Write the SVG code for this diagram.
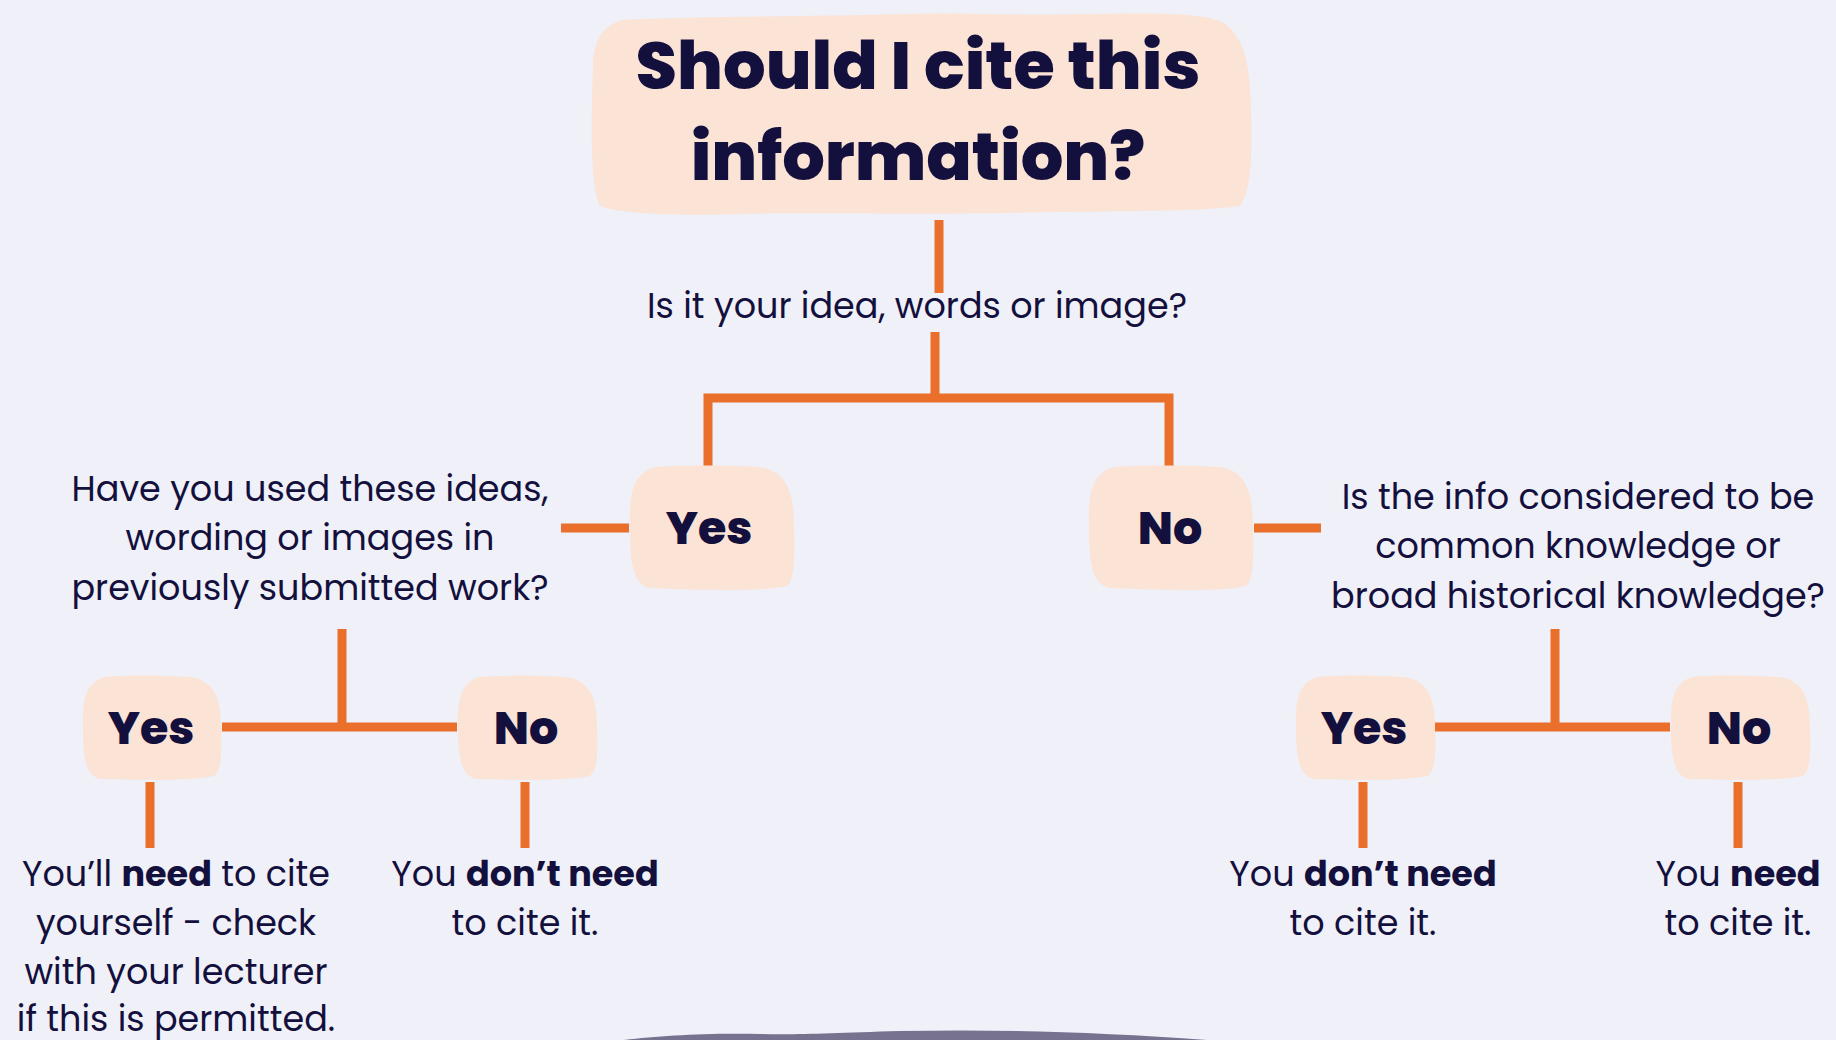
<svg xmlns="http://www.w3.org/2000/svg" width="1836" height="1040" viewBox="0 0 1836 1040">
<defs>
<style>
.bg{fill:#EFF0F8}
.box{fill:#FBE3D6}
.con{stroke:#E96F2A;stroke-width:9;fill:none;stroke-linecap:butt}
.t{font-family:Poppins,Inter,"Open Sans",sans-serif;fill:#14103D;text-anchor:middle}
.q{font-size:35px;font-weight:400}
.lbl{font-size:46px;font-weight:800}
.title{font-size:67px;font-weight:800}
.b{font-weight:700}
</style>
</defs>
<rect class="bg" x="0" y="0" width="1836" height="1040"/>

<g id="connectors">
<line class="con" x1="939" y1="220" x2="939" y2="293"/>
<line class="con" x1="935" y1="332" x2="935" y2="398"/>
<polyline class="con" points="708,466 708,398 1169,398 1169,466"/>
<line class="con" x1="561" y1="528" x2="629" y2="528"/>
<line class="con" x1="1254" y1="528" x2="1321" y2="528"/>
<line class="con" x1="342" y1="629" x2="342" y2="727"/>
<line class="con" x1="222" y1="727" x2="457" y2="727"/>
<line class="con" x1="150" y1="782" x2="150" y2="848"/>
<line class="con" x1="525" y1="782" x2="525" y2="848"/>
<line class="con" x1="1555" y1="629" x2="1555" y2="727"/>
<line class="con" x1="1435" y1="727" x2="1670" y2="727"/>
<line class="con" x1="1363" y1="782" x2="1363" y2="848"/>
<line class="con" x1="1738" y1="782" x2="1738" y2="848"/>
</g>

<g id="title">
<path class="box" d="M622,20 C700,16 800,17 900,14 C960,12 1020,16 1080,14 C1150,13 1200,12 1222,22 C1246,36 1250,70 1251,110 C1252,150 1252,190 1240,206 C1200,212 1100,211 1000,213 C900,215 820,212 740,214 C680,216 620,214 600,206 C590,185 591,120 593,65 C594,38 604,26 622,20 Z"/>
<text class="t title" x="918" y="89">Should I cite this</text>
<text class="t title" x="918" y="180">information?</text>
</g>

<g id="q1">
<text class="t q" x="917" y="318">Is it your idea, words or image?</text>
</g>

<g id="yes1">
<path class="box" d="M655,467 C690,465 740,465 765,468 C788,474 794,495 794,528 C795,560 794,580 787,586 C760,592 700,590 650,588 C636,585 630,572 630,528 C629,495 632,474 655,467 Z"/>
<text class="t lbl" x="709" y="544">Yes</text>
</g>

<g id="no1">
<path class="box" d="M1114,467 C1150,465 1200,465 1225,468 C1247,474 1253,495 1253,528 C1254,560 1253,580 1246,586 C1220,592 1160,590 1110,588 C1095,585 1089,572 1089,528 C1088,495 1091,474 1114,467 Z"/>
<text class="t lbl" x="1170" y="544">No</text>
</g>

<g id="q2">
<text class="t q" x="310" y="501">Have you used these ideas,</text>
<text class="t q" x="310" y="550">wording or images in</text>
<text class="t q" x="310" y="600">previously submitted work?</text>
</g>

<g id="q3">
<text class="t q" x="1578" y="509">Is the info considered to be</text>
<text class="t q" x="1578" y="558">common knowledge or</text>
<text class="t q" x="1578" y="608">broad historical knowledge?</text>
</g>

<g id="yes2l">
<path class="box" d="M104,677 C130,675 170,675 196,678 C215,684 221,700 221,728 C222,755 221,770 214,776 C190,781 140,780 100,779 C88,776 83,765 83,728 C82,700 86,683 104,677 Z"/>
<text class="t lbl" x="151" y="744">Yes</text>
</g>

<g id="no2l">
<path class="box" d="M479,677 C505,675 545,675 572,678 C591,684 597,700 597,728 C598,755 597,770 590,776 C566,781 516,780 476,779 C464,776 458,765 458,728 C457,700 461,683 479,677 Z"/>
<text class="t lbl" x="526" y="744">No</text>
</g>

<g id="yes2r">
<path class="box" d="M1317,677 C1343,675 1383,675 1410,678 C1429,684 1435,700 1435,728 C1436,755 1435,770 1428,776 C1404,781 1354,780 1314,779 C1302,776 1296,765 1296,728 C1295,700 1299,683 1317,677 Z"/>
<text class="t lbl" x="1364" y="744">Yes</text>
</g>

<g id="no2r">
<path class="box" d="M1692,677 C1718,675 1758,675 1785,678 C1804,684 1810,700 1810,728 C1811,755 1810,770 1803,776 C1779,781 1729,780 1689,779 C1677,776 1671,765 1671,728 C1670,700 1674,683 1692,677 Z"/>
<text class="t lbl" x="1739" y="744">No</text>
</g>

<g id="a1">
<text class="t q" x="176" y="886">You’ll <tspan class="b">need</tspan> to cite</text>
<text class="t q" x="176" y="935">yourself - check</text>
<text class="t q" x="176" y="984">with your lecturer</text>
<text class="t q" x="176" y="1031">if this is permitted.</text>
</g>

<g id="a2">
<text class="t q" x="525" y="886">You <tspan class="b">don’t need</tspan></text>
<text class="t q" x="525" y="935">to cite it.</text>
</g>

<g id="a3">
<text class="t q" x="1363" y="886">You <tspan class="b">don’t need</tspan></text>
<text class="t q" x="1363" y="935">to cite it.</text>
</g>

<g id="a4">
<text class="t q" x="1738" y="886">You <tspan class="b">need</tspan></text>
<text class="t q" x="1738" y="935">to cite it.</text>
</g>

<path fill="#767290" d="M624,1040 C660,1036 700,1033 760,1034 C800,1035 830,1033 900,1031 C1000,1029 1100,1032 1207,1040 Z"/>
</svg>
